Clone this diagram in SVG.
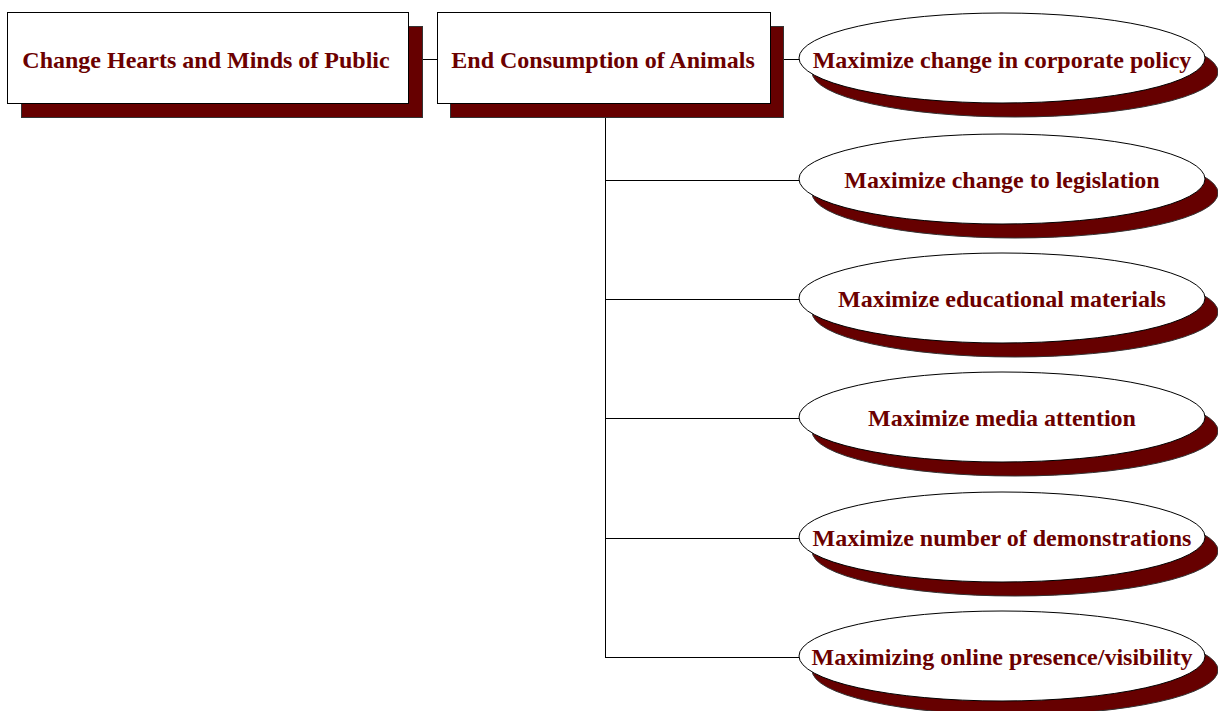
<svg xmlns="http://www.w3.org/2000/svg" width="1218" height="711" viewBox="0 0 1218 711">
<style>
.sh{fill:#660000;stroke:#333;stroke-width:1}
.bx{fill:#fff;stroke:#000;stroke-width:1}
.t{font-family:"Liberation Serif","Times New Roman",serif;font-weight:bold;font-size:24px;fill:#6b0000;text-anchor:middle;dominant-baseline:central}
.c{stroke:#000;stroke-width:1;fill:none}
</style>
<rect width="1218" height="711" fill="#fff"/>
<g id="connectors">
<line class="c" x1="409" y1="59.5" x2="437" y2="59.5"/>
<line class="c" x1="771" y1="59.5" x2="800" y2="59.5"/>
<line class="c" x1="605.5" y1="118" x2="605.5" y2="657.5"/>
<line class="c" x1="605" y1="180.5" x2="799" y2="180.5"/>
<line class="c" x1="605" y1="299.5" x2="799" y2="299.5"/>
<line class="c" x1="605" y1="418.5" x2="799" y2="418.5"/>
<line class="c" x1="605" y1="538.5" x2="799" y2="538.5"/>
<line class="c" x1="605" y1="657.5" x2="799" y2="657.5"/>
</g>
<g id="n1">
<rect class="sh" x="21.5" y="26.5" width="401" height="91"/>
<rect class="bx" x="7.5" y="12.5" width="401" height="91"/>
<text class="t" x="206" y="60">Change Hearts and Minds of Public</text>
</g>
<g id="n2">
<rect class="sh" x="450.5" y="26.5" width="333" height="91"/>
<rect class="bx" x="437.5" y="12.5" width="333" height="91"/>
<text class="t" x="603" y="60">End Consumption of Animals</text>
</g>
<g id="e1">
<ellipse class="sh" cx="1015" cy="72" rx="203" ry="45"/>
<ellipse class="bx" cx="1002" cy="58" rx="203" ry="45"/>
<text class="t" x="1002" y="60">Maximize change in corporate policy</text>
</g>
<g id="e2">
<ellipse class="sh" cx="1015" cy="193" rx="203" ry="45"/>
<ellipse class="bx" cx="1002" cy="179" rx="203" ry="45"/>
<text class="t" x="1002" y="180">Maximize change to legislation</text>
</g>
<g id="e3">
<ellipse class="sh" cx="1015" cy="312" rx="203" ry="45"/>
<ellipse class="bx" cx="1002" cy="298" rx="203" ry="45"/>
<text class="t" x="1002" y="299">Maximize educational materials</text>
</g>
<g id="e4">
<ellipse class="sh" cx="1015" cy="431" rx="203" ry="45"/>
<ellipse class="bx" cx="1002" cy="417" rx="203" ry="45"/>
<text class="t" x="1002" y="418">Maximize media attention</text>
</g>
<g id="e5">
<ellipse class="sh" cx="1015" cy="551" rx="203" ry="45"/>
<ellipse class="bx" cx="1002" cy="537" rx="203" ry="45"/>
<text class="t" x="1002" y="538">Maximize number of demonstrations</text>
</g>
<g id="e6">
<ellipse class="sh" cx="1015" cy="670" rx="203" ry="45"/>
<ellipse class="bx" cx="1002" cy="656" rx="203" ry="45"/>
<text class="t" x="1002" y="657">Maximizing online presence/visibility</text>
</g>
</svg>
